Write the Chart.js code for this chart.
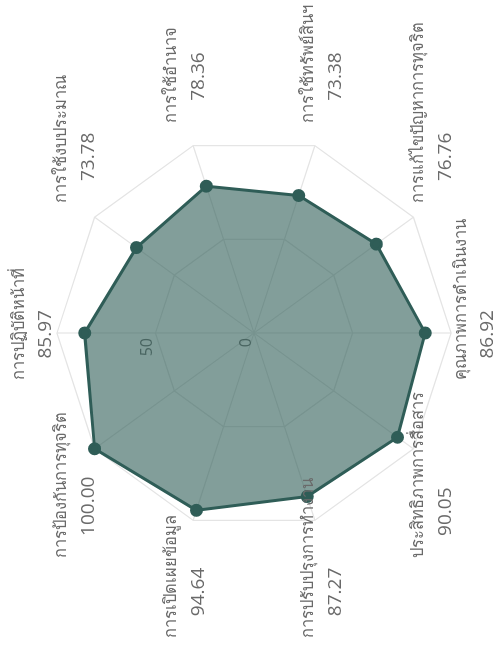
<!DOCTYPE html>
<html>
<head>
<meta charset="utf-8">
<script src="https://cdn.jsdelivr.net/npm/chart.js@4.4.1/dist/chart.umd.min.js"></script>
<style>
  html, body { margin: 0; padding: 0; background: #fff; overflow: hidden; }
  #wrap {
    position: absolute; left: 0; top: 0;
    width: 651px; height: 495px;
    transform-origin: 0 0;
    transform: translateY(651px) rotate(-90deg);
  }
</style>
</head>
<body>
<div id="wrap"><canvas id="c" width="651" height="495"></canvas></div>
<script>
const categories = [
  'การปฏิบัติหน้าที่',
  'การใช้งบประมาณ',
  'การใช้อำนาจ',
  'การใช้ทรัพย์สินฯ',
  'การแก้ไขปัญหาการทุจริต',
  'คุณภาพการดำเนินงาน',
  'ประสิทธิภาพการสื่อสาร',
  'การปรับปรุงการทำงาน',
  'การเปิดเผยข้อมูล',
  'การป้องกันการทุจริต'
];
const scores = [85.97, 73.78, 78.36, 73.38, 76.76, 86.92, 90.05, 87.27, 94.64, 100.00];
const tickValues = [0, 50];
const tickLabels = ['0', '50'];

const labels = categories.map((c, i) => [c, scores[i].toFixed(2)]);

// tick labels, drawn beside the first spoke (under the fill)
const tickPlugin = {
  id: 'offsetTicks',
  beforeDatasetsDraw(chart) {
    const s = chart.scales.r;
    const ctx = chart.ctx;
    const a = s.getIndexAngle(0);
    ctx.save();
    ctx.translate(s.xCenter, s.yCenter);
    ctx.rotate(a);
    ctx.fillStyle = '#707070';
    ctx.font = '16px "Open Sans", "Noto Sans", sans-serif';
    ctx.textAlign = 'right';
    ctx.textBaseline = 'middle';
    tickValues.forEach((v, i) => {
      const d = s.getDistanceFromCenterForValue(v);
      ctx.fillText(tickLabels[i], -5, -d - 8);
    });
    ctx.restore();
  }
};

// two-line point labels (name + score)
const labelPlugin = {
  id: 'pointLabelsTwoLine',
  afterDatasetsDraw(chart) {
    const s = chart.scales.r;
    const ctx = chart.ctx;
    const blockW = 95, indent = 22;
    ctx.save();
    ctx.fillStyle = '#6a6a6a';
    ctx.textAlign = 'left';
    ctx.textBaseline = 'middle';
    labels.forEach((lines, i) => {
      const p = s.getPointPosition(i, s.drawingArea + 24);
      let left;
      if (Math.abs(p.x - s.xCenter) < 2) left = p.x - blockW / 2;
      else if (p.x > s.xCenter) left = p.x;
      else left = p.x - blockW;
      ctx.font = '16.5px "Open Sans", "Noto Sans", sans-serif';
      ctx.fillText(lines[0], left, p.y - 14);
      ctx.font = '19px "Open Sans", "Noto Sans", sans-serif';
      ctx.fillText(lines[1], left + indent, p.y + 13);
    });
    ctx.restore();
  }
};

new Chart(document.getElementById('c'), {
  type: 'radar',
  data: {
    labels: labels,
    datasets: [{
      data: scores,
      borderColor: '#2f5d57',
      backgroundColor: 'rgba(47,93,87,0.6)',
      borderWidth: 3,
      pointBackgroundColor: '#2f5d57',
      pointBorderColor: '#2f5d57',
      pointRadius: 5,
      pointHoverRadius: 5,
      fill: true
    }]
  },
  options: {
    responsive: false,
    animation: false,
    plugins: { legend: { display: false }, tooltip: { enabled: false } },
    layout: { padding: { top: 57, bottom: 44, left: 0, right: 15 } },
    scales: {
      r: {
        min: 0,
        max: 100,
        ticks: { stepSize: 50, display: false },
        grid: { color: '#e4e4e4', lineWidth: 1.2 },
        angleLines: { color: '#e4e4e4', lineWidth: 1.2 },
        pointLabels: { display: false }
      }
    }
  },
  plugins: [tickPlugin, labelPlugin]
});
</script>
</body>
</html>
